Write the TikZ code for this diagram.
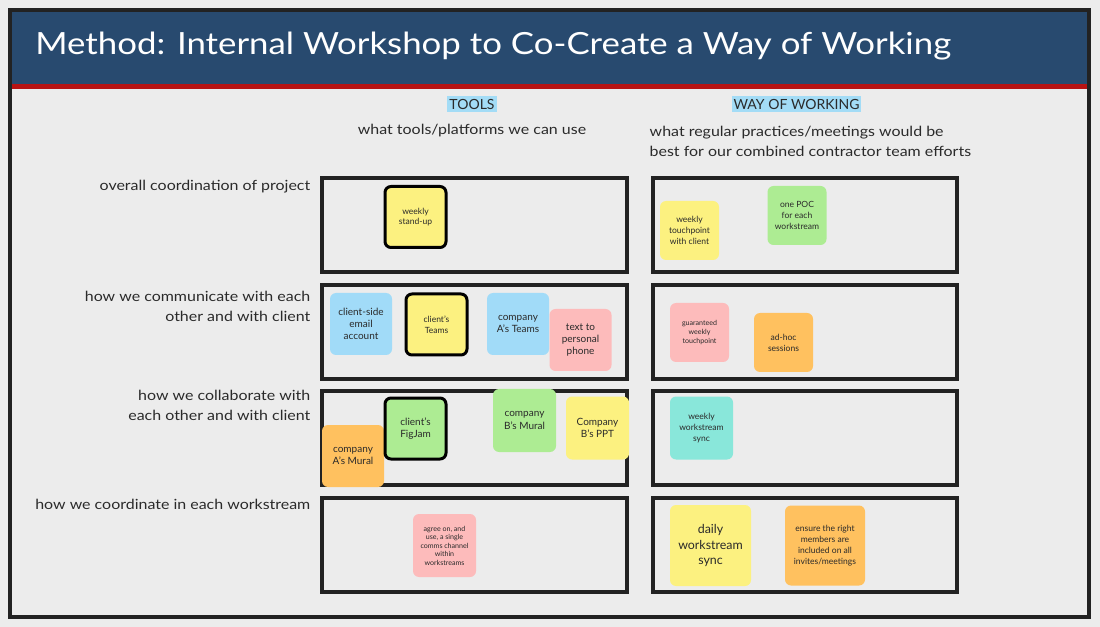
\documentclass[tikz,border=0pt]{standalone}
\usepackage{fontspec}
\setmainfont{Lato}
\newfontfamily\widefont{Lato}[FakeStretch=1.14]
\definecolor{bgGray}{HTML}{ECECEC}
\definecolor{frameGray}{HTML}{222222}
\definecolor{inkGray}{HTML}{2A2A2A}
\definecolor{titleBlue}{HTML}{284A6F}
\definecolor{titleRed}{HTML}{B71313}
\definecolor{hiBlue}{HTML}{A3DCF6}
\definecolor{noteYellow}{HTML}{FCF180}
\definecolor{noteBlue}{HTML}{A1DBF8}
\definecolor{notePink}{HTML}{FDBBBB}
\definecolor{noteGreen}{HTML}{ADEC93}
\definecolor{noteOrange}{HTML}{FFC15F}
\definecolor{noteTeal}{HTML}{89E7DA}
\tikzset{
    cell/.style={draw=frameGray, line width=3pt},
    sticky/.style={rounded corners=4.5pt, inner sep=0pt, align=center, text=inkGray},
    picked/.style={draw=black, line width=2.25pt},
    notetiny/.style={font=\fontsize{5.3}{6.4}\selectfont},
    notesmall/.style={font=\fontsize{6.4}{8.1}\selectfont},
    notemid/.style={font=\fontsize{7.5}{9.2}\selectfont},
    notebig/.style={font=\fontsize{9.3}{11.3}\selectfont},
    rowlabel/.style={anchor=east, align=right, text=inkGray, font=\widefont\fontsize{10.5}{15}\selectfont},
    colhead/.style={fill=hiBlue, inner xsep=1.5pt, inner ysep=2.5pt, text=inkGray, font=\fontsize{10.5}{12}\selectfont}
}
\newcommand{\sticky}[6] {
	\node[sticky, minimum width=#4*0.75pt, minimum height=#4*0.75pt, #5] (#1) at (#2,#3) {#6};
}
\newcommand{\cellrow}[2] {
	\draw[cell] (322,#1+2) rectangle (627,#2-2);
	\draw[cell] (653,#1+2) rectangle (957,#2-2);
}

\begin{document}
\begin{tikzpicture}[x=0.75pt, y=-0.75pt]
		% Board and header
		\fill[bgGray] (0,0) rectangle (1100,627);
		\fill[titleBlue] (12,12) rectangle (1087,84);
		\fill[titleRed] (12,84) rectangle (1087,89.5);
		\draw[frameGray, line width=3pt] (10,10) rectangle (1089,617);
		\node[anchor=base west, inner sep=0pt, text=white, font=\widefont\fontsize{22.9}{27}\selectfont] (title) at (35,55) {Method: Internal Workshop to Co-Create a Way of Working};

		% Column heads
		\node[colhead] (tools) at (472,104) {TOOLS};
		\node[colhead] (wow) at (796.5,104) {WAY OF WORKING};
		\node[rowlabel, anchor=center] (toolsSub) at (472,131) {what tools/platforms we can use};
		\node[rowlabel, anchor=west, align=left] (wowSub) at (645,141) {what regular practices/meetings would be\\best for our combined contractor team efforts};

		% Row labels
		\node[rowlabel] (coord) at (315,187) {overall coordination of project};
		\node[rowlabel] (comms) at (315,306) {how we communicate with each\\other and with client};
		\node[rowlabel] (collab) at (315,405) {how we collaborate with\\each other and with client};
		\node[rowlabel] (stream) at (315,504) {how we coordinate in each workstream};

		% Cells
		\cellrow{176}{274}
		\cellrow{283}{381}
		\cellrow{389}{487}
		\cellrow{496}{594}

		% Tools column
		\sticky{standup}{415.5}{217}{61}{fill=noteYellow, picked, notesmall}{weekly\\stand-up}
		\sticky{email}{361}{324}{62}{fill=noteBlue, notemid}{client-side\\email\\account}
		\sticky{clientTeams}{436.5}{324.5}{61}{fill=noteYellow, picked, notesmall}{client's\\Teams}
		\sticky{aTeams}{518}{324}{62}{fill=noteBlue, notemid}{company\\A's Teams}
		\sticky{phone}{580.5}{340}{62}{fill=notePink, notemid}{text to\\personal\\phone}
		\sticky{aMural}{353}{456}{62}{fill=noteOrange, notemid}{company\\A's Mural}
		\sticky{figjam}{415.5}{428.5}{61}{fill=noteGreen, picked, notemid}{client's\\FigJam}
		\sticky{bMural}{524.5}{420.5}{63}{fill=noteGreen, notemid}{company\\B's Mural}
		\sticky{bPPT}{597.5}{428}{63}{fill=noteYellow, notemid}{Company\\B's PPT}
		\sticky{agree}{444.5}{545.5}{63}{fill=notePink, notetiny}{agree on, and\\use, a single\\comms channel\\within\\workstreams}

		% Way of working column
		\sticky{touch}{689.5}{230.5}{59}{fill=noteYellow, notesmall}{weekly\\touchpoint\\with client}
		\sticky{poc}{797}{215.5}{59}{fill=noteGreen, notesmall}{one POC\\for each\\workstream}
		\sticky{guaranteed}{699.5}{332.5}{59}{fill=notePink, notetiny}{guaranteed\\weekly\\touchpoint}
		\sticky{adhoc}{783.5}{342.5}{59}{fill=noteOrange, notesmall}{ad-hoc\\sessions}
		\sticky{weeklySync}{701.5}{428}{63}{fill=noteTeal, notesmall}{weekly\\workstream\\sync}
		\sticky{dailySync}{710.5}{545.5}{81}{fill=noteYellow, notebig}{daily\\workstream\\sync}
		\sticky{ensure}{825}{545.5}{80}{fill=noteOrange, notesmall}{ensure the right\\members are\\included on all\\invites/meetings}

	\end{tikzpicture}
\end{document}
